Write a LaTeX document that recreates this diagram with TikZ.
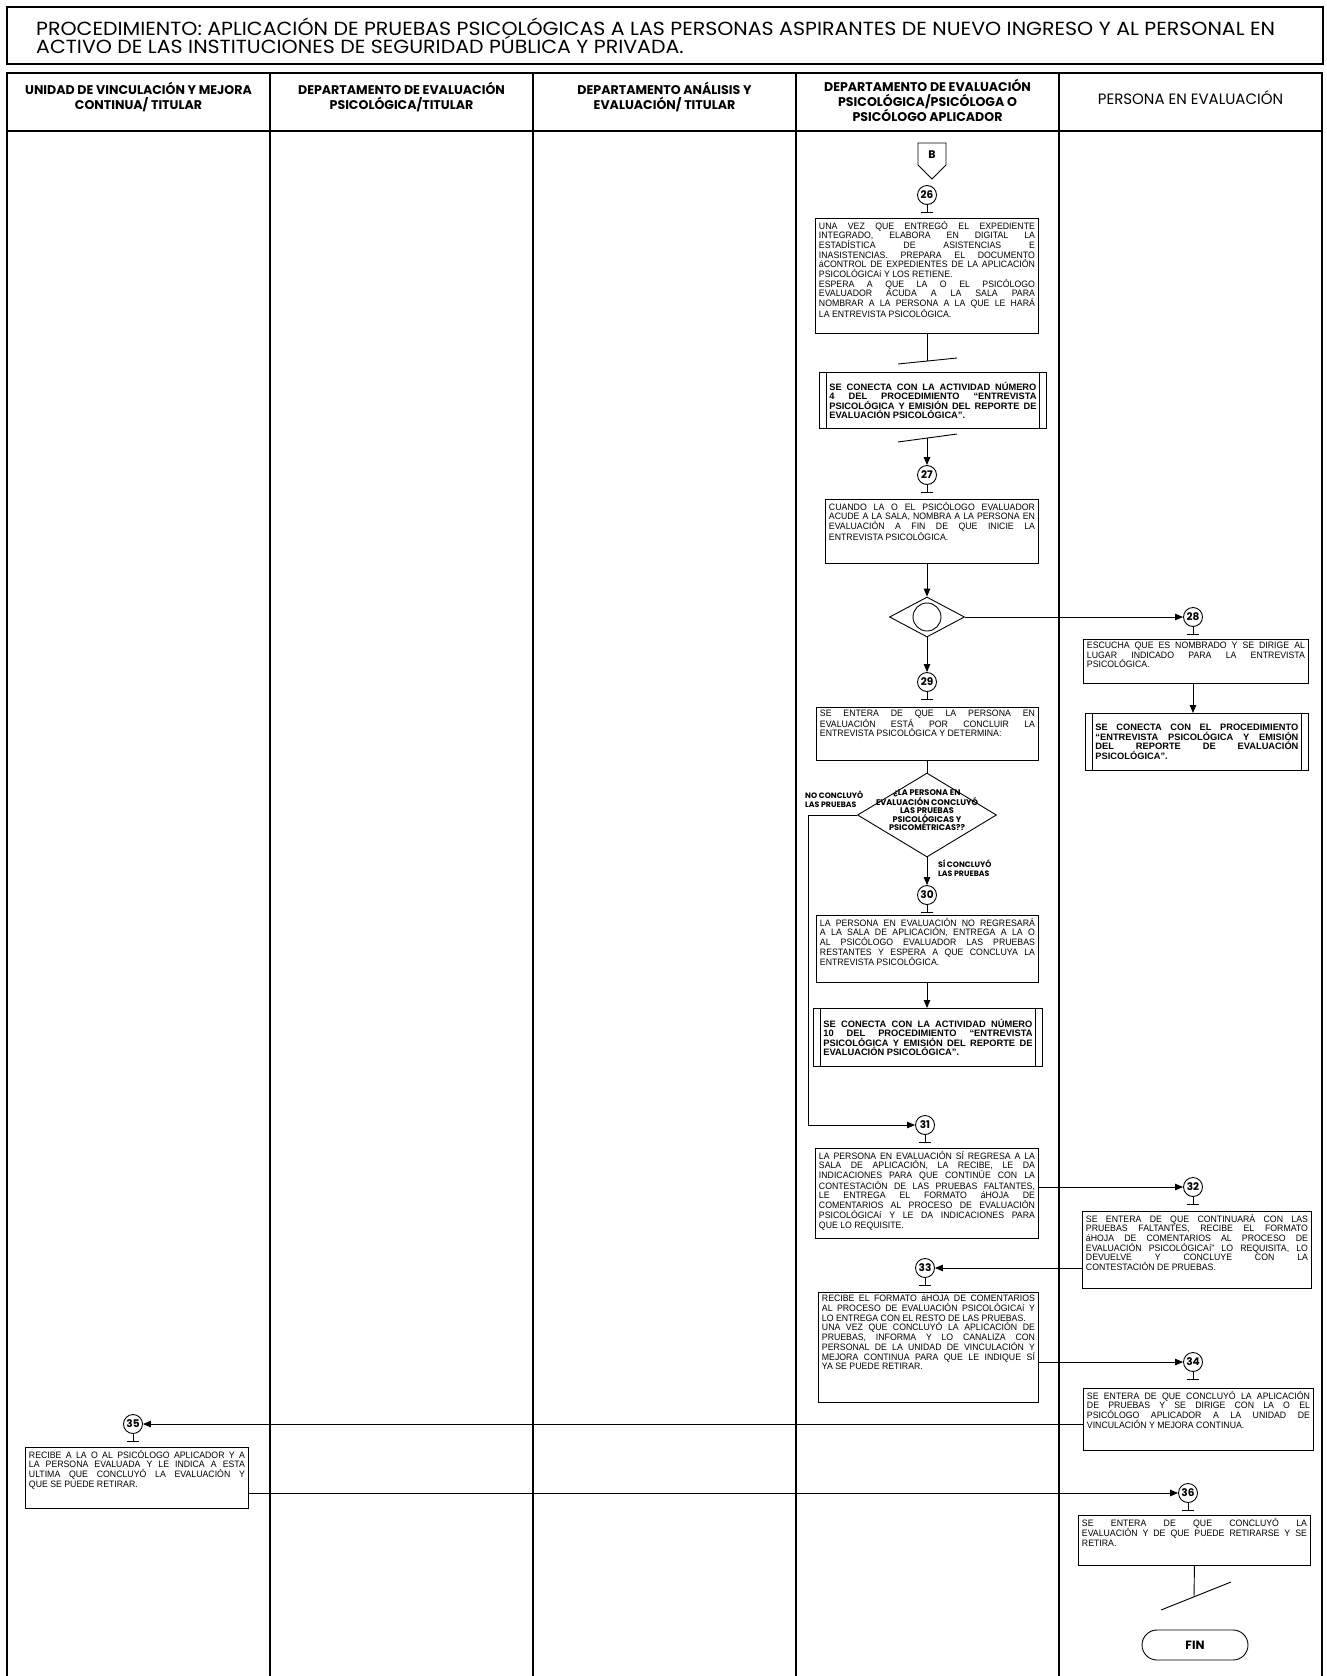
\documentclass[tikz,border=0pt]{standalone}
\usepackage{fontspec}
\setmainfont{Liberation Sans}
\newfontfamily\pop{Poppins}
\newfontfamily\popw{Poppins}[FakeStretch=1.08]
\newfontfamily\bodyf{Liberation Sans}[FakeStretch=0.94]
\newfontfamily\boldf{Liberation Sans}
\usetikzlibrary{shapes.geometric,arrows.meta,calc}
\newcommand{\bodytext}{\bodyf\fontsize{9.3}{9.7}\selectfont\tolerance=10000\hyphenpenalty=10000\emergencystretch=0pt}
\newcommand{\boldtext}{\boldf\bfseries\fontsize{9.3}{9.5}\selectfont\tolerance=10000\hyphenpenalty=10000}
\tikzset{
  ln/.style={line width=0.9pt},
  arr/.style={line width=0.9pt,-{Triangle[length=8pt,width=6.5pt]}},
  tbl/.style={line width=1.8pt},
  boxst/.style={draw,line width=0.9pt,inner xsep=3.5pt,inner ysep=0pt},
  circ/.style={circle,draw,line width=0.9pt,minimum size=19pt,inner sep=0pt,font=\pop\bfseries\fontsize{10.5}{11}\selectfont},
  hdr/.style={align=center,inner sep=0pt,font=\pop\bfseries\fontsize{12.6}{15}\selectfont},
  ttl/.style={inner sep=0pt,font=\popw\fontsize{19}{21}\selectfont},
  lbl/.style={align=left,inner sep=0pt,font=\pop\bfseries\fontsize{7.8}{9}\selectfont},
}
\newcommand{\fbx}[6]{%
  \pgfmathsetmacro{\bw}{#4-#2}%
  \pgfmathsetmacro{\bh}{#5-#3}%
  \pgfmathsetmacro{\tw}{#4-#2-7}%
  \node[boxst,anchor=north west,minimum width=\bw pt,minimum height=\bh pt] (#1) at (#2,#3) {\parbox[c][\bh pt][t]{\tw pt}{\vspace*{2.5pt}\bodytext #6}};%
}
\newcommand{\cbx}[6]{%
  \pgfmathsetmacro{\bw}{#4-#2}%
  \pgfmathsetmacro{\bh}{#5-#3}%
  \pgfmathsetmacro{\tw}{#4-#2-20}%
  \node[boxst,inner xsep=10pt,anchor=north west,minimum width=\bw pt,minimum height=\bh pt] (#1) at (#2,#3) {\parbox[c][\bh pt][c]{\tw pt}{\boldtext #6}};%
  \draw[ln] ([xshift=7pt]#1.north west) -- ([xshift=7pt]#1.south west);%
  \draw[ln] ([xshift=-7pt]#1.north east) -- ([xshift=-7pt]#1.south east);%
}
\newcommand{\cnum}[4]{%
  \node[circ] (#1) at (#2,#3) {#4};%
  \draw[ln] (#1.south) -- ++(0,7) coordinate (#1t);%
  \draw[ln] ([xshift=-6pt]#1t) -- ([xshift=6pt]#1t);%
}
\begin{document}
\begin{tikzpicture}[x=1pt,y=-1pt]
\useasboundingbox (0,0) rectangle (1327,1676);
\fill[white] (0,0) rectangle (1327,1676);
% title
\draw[line width=1.3pt] (7,7) rectangle (1323,64);
\node[ttl,anchor=base west] (t1) at (36,35) {PROCEDIMIENTO: APLICACIÓN DE PRUEBAS PSICOLÓGICAS A LAS PERSONAS ASPIRANTES DE NUEVO INGRESO Y AL PERSONAL EN};
\node[ttl,anchor=base west] (t2) at (36,53) {ACTIVO DE LAS INSTITUCIONES DE SEGURIDAD PÚBLICA Y PRIVADA.};
% table
\draw[tbl] (7,1690) -- (7,73) -- (1322,73) -- (1322,1690);
\draw[tbl] (7,131) -- (1322,131);
\foreach \xx in {270,533,796,1059} {\draw[tbl] (\xx,73) -- (\xx,1690);}
\node[hdr] (h1) at (138.5,97) {UNIDAD DE VINCULACIÓN Y MEJORA\\CONTINUA/ TITULAR};
\node[hdr] (h2) at (401.5,97) {DEPARTAMENTO DE EVALUACIÓN\\PSICOLÓGICA/TITULAR};
\node[hdr] (h3) at (664.5,97) {DEPARTAMENTO ANÁLISIS Y\\EVALUACIÓN/ TITULAR};
\node[hdr] (h4) at (927.5,100) {DEPARTAMENTO DE EVALUACIÓN\\PSICOLÓGICA/PSICÓLOGA O\\PSICÓLOGO APLICADOR};
\node[hdr,font=\pop\fontsize{15}{17}\selectfont] (h5) at (1190.5,98) {PERSONA EN EVALUACIÓN};
% off-page connector B
\node[inner sep=0pt,font=\pop\bfseries\fontsize{11}{12}\selectfont] (B) at (932,155) {B};
\draw[ln] ($(B)+(-14,-12)$) -- ($(B)+(14,-12)$) -- ($(B)+(14,10)$) -- ($(B)+(0,24)$) -- ($(B)+(-14,10)$) -- cycle;
% activity 26
\cnum{c26}{927}{195}{26}
\fbx{b26}{815}{218}{1038}{333}{UNA VEZ QUE ENTREGÓ EL EXPEDIENTE\linebreak INTEGRADO, ELABORA EN DIGITAL LA\linebreak ESTADÍSTICA DE ASISTENCIAS E\linebreak INASISTENCIAS. PREPARA EL DOCUMENTO\linebreak áCONTROL DE EXPEDIENTES DE LA APLICACIÓN\linebreak PSICOLÓGICAí Y LOS RETIENE.\par ESPERA A QUE LA O EL PSICÓLOGO\linebreak EVALUADOR ACUDA A LA SALA PARA\linebreak NOMBRAR A LA PERSONA A LA QUE LE HARÁ\linebreak LA ENTREVISTA PSICOLÓGICA.}
\coordinate (s1) at (927,361);
\draw[ln] (b26.south -| c26) -- (s1);
\draw[ln] ($(s1)+(-29,3)$) -- ($(s1)+(30,-3)$);
\cbx{cb26}{819}{372}{1046}{428}{SE CONECTA CON LA ACTIVIDAD NÚMERO\linebreak 4 DEL PROCEDIMIENTO “ENTREVISTA\linebreak PSICOLÓGICA Y EMISIÓN DEL REPORTE DE\linebreak EVALUACIÓN PSICOLÓGICA”.}
\coordinate (s2) at (927,438);
\draw[ln] ($(s2)+(-29,4)$) -- ($(s2)+(30,-4)$);
% activity 27
\cnum{c27}{927}{475}{27}
\draw[arr] (s2) -- (c27);
\fbx{b27}{825}{499}{1038}{563}{CUANDO LA O EL PSICÓLOGO EVALUADOR\linebreak ACUDE A LA SALA, NOMBRA A LA PERSONA EN\linebreak EVALUACIÓN A FIN DE QUE INICIE LA\linebreak ENTREVISTA PSICOLÓGICA.}
% merge
\node[diamond,draw,line width=0.9pt,minimum width=75pt,minimum height=40pt,inner sep=0pt] (m1) at (927,617) {};
\node[circle,draw,line width=0.9pt,minimum size=28pt,inner sep=0pt] (m1c) at (m1) {};
\draw[arr] (c27 |- b27.south) -- (m1.north);
% activity 28
\cnum{c28}{1193}{617}{28}
\draw[arr] (m1.east) -- (c28);
\fbx{b28}{1083}{639}{1308}{683}{ESCUCHA QUE ES NOMBRADO Y SE DIRIGE AL\linebreak LUGAR INDICADO PARA LA ENTREVISTA\linebreak PSICOLÓGICA.}
\cbx{cb28}{1085}{713}{1308}{770}{SE CONECTA CON EL PROCEDIMIENTO\linebreak “ENTREVISTA PSICOLÓGICA Y EMISIÓN\linebreak DEL REPORTE DE EVALUACIÓN\linebreak PSICOLÓGICA”.}
\draw[arr] (c28 |- b28.south) -- (c28 |- cb28.north);
% activity 29
\cnum{c29}{927}{682}{29}
\draw[arr] (m1.south) -- (c29);
\fbx{b29}{816}{707}{1038}{760}{SE ENTERA DE QUE LA PERSONA EN\linebreak EVALUACIÓN ESTÁ POR CONCLUIR LA\linebreak ENTREVISTA PSICOLÓGICA Y DETERMINA:}
% decision
\node[diamond,draw,line width=0.9pt,minimum width=139pt,minimum height=84pt,inner sep=0pt] (d2) at (927,815) {};
\node[align=center,inner sep=0pt,font=\pop\bfseries\fontsize{8.2}{8.4}\selectfont] (d2t) at (927,810) {¿LA PERSONA EN\\EVALUACIÓN CONCLUYÓ\\LAS PRUEBAS\\PSICOLÓGICAS Y\\PSICOMÉTRICAS??};
\draw[ln] (c29 |- b29.south) -- (d2.north);
\node[lbl,anchor=west] (nol) at (805,799) {NO CONCLUYÓ\\LAS PRUEBAS};
\node[lbl,anchor=west] (sil) at (938,868) {SÍ CONCLUYÓ\\LAS PRUEBAS};
% activity 30
\cnum{c30}{927}{895}{30}
\draw[arr] (d2.south) -- (c30);
\fbx{b30}{816}{915}{1038}{982}{LA PERSONA EN EVALUACIÓN NO REGRESARÁ\linebreak A LA SALA DE APLICACIÓN, ENTREGA A LA O\linebreak AL PSICÓLOGO EVALUADOR LAS PRUEBAS\linebreak RESTANTES Y ESPERA A QUE CONCLUYA LA\linebreak ENTREVISTA PSICOLÓGICA.}
\cbx{cb30}{813}{1008}{1042}{1066}{SE CONECTA CON LA ACTIVIDAD NÚMERO\linebreak 10 DEL PROCEDIMIENTO “ENTREVISTA\linebreak PSICOLÓGICA Y EMISIÓN DEL REPORTE DE\linebreak EVALUACIÓN PSICOLÓGICA”.}
\draw[arr] (c30 |- b30.south) -- (c30 |- cb30.north);
% activity 31
\cnum{c31}{925}{1125}{31}
\coordinate (nop) at (808,815);
\draw[arr] (d2.west) -- (nop) |- (c31);
\fbx{b31}{815}{1148}{1038}{1238}{LA PERSONA EN EVALUACIÓN SÍ REGRESA A LA\linebreak SALA DE APLICACIÓN, LA RECIBE, LE DA\linebreak INDICACIONES PARA QUE CONTINÚE CON LA\linebreak CONTESTACIÓN DE LAS PRUEBAS FALTANTES,\linebreak LE ENTREGA EL FORMATO áHOJA DE\linebreak COMENTARIOS AL PROCESO DE EVALUACIÓN\linebreak PSICOLÓGICAí Y LE DA INDICACIONES PARA\linebreak QUE LO REQUISITE.}
% activity 32
\cnum{c32}{1193}{1187}{32}
\draw[arr] (b31.east |- c32) -- (c32);
\fbx{b32}{1082}{1211}{1311}{1288}{SE ENTERA DE QUE CONTINUARÁ CON LAS\linebreak PRUEBAS FALTANTES, RECIBE EL FORMATO\linebreak áHOJA DE COMENTARIOS AL PROCESO DE\linebreak EVALUACIÓN PSICOLÓGICAí” LO REQUISITA, LO\linebreak DEVUELVE Y CONCLUYE CON LA\linebreak CONTESTACIÓN DE PRUEBAS.}
% activity 33
\cnum{c33}{925}{1268}{33}
\draw[arr] (b32.west |- c33) -- (c33);
\fbx{b33}{818}{1292}{1038}{1402}{RECIBE EL FORMATO áHOJA DE COMENTARIOS\linebreak AL PROCESO DE EVALUACIÓN PSICOLÓGICAí Y\linebreak LO ENTREGA CON EL RESTO DE LAS PRUEBAS.\par UNA VEZ QUE CONCLUYÓ LA APLICACIÓN DE\linebreak PRUEBAS, INFORMA Y LO CANALIZA CON\linebreak PERSONAL DE LA UNIDAD DE VINCULACIÓN Y\linebreak MEJORA CONTINUA PARA QUE LE INDIQUE SÍ\linebreak YA SE PUEDE RETIRAR.}
% activity 34
\cnum{c34}{1193}{1362}{34}
\draw[arr] (b33.east |- c34) -- (c34);
\fbx{b34}{1083}{1388}{1313}{1450}{SE ENTERA DE QUE CONCLUYÓ LA APLICACIÓN\linebreak DE PRUEBAS Y SE DIRIGE CON LA O EL\linebreak PSICÓLOGO APLICADOR A LA UNIDAD DE\linebreak VINCULACIÓN Y MEJORA CONTINUA.}
% activity 35
\cnum{c35}{133}{1424}{35}
\draw[arr] (b34.west |- c35) -- (c35);
\fbx{b35}{25}{1447}{248}{1508}{RECIBE A LA O AL PSICÓLOGO APLICADOR Y A\linebreak LA PERSONA EVALUADA Y LE INDICA A ESTA\linebreak ULTIMA QUE CONCLUYÓ LA EVALUACIÓN Y\linebreak QUE SE PUEDE RETIRAR.}
% activity 36
\cnum{c36}{1188}{1493}{36}
\draw[arr] (b35.east |- c36) -- (c36);
\fbx{b36}{1078}{1515}{1310}{1565}{SE ENTERA DE QUE CONCLUYÓ LA\linebreak EVALUACIÓN Y DE QUE PUEDE RETIRARSE Y SE\linebreak RETIRA.}
\coordinate (s3) at (1194,1597);
\draw[ln] (b36.south) -- (s3);
\draw[ln] ($(s3)+(-33,13)$) -- ($(s3)+(37,-15)$);
\node[draw,line width=0.9pt,rounded corners=15pt,minimum width=106pt,minimum height=30pt,font=\pop\bfseries\fontsize{12}{13}\selectfont] (fin) at (1195,1645) {FIN};
\end{tikzpicture}
\end{document}
